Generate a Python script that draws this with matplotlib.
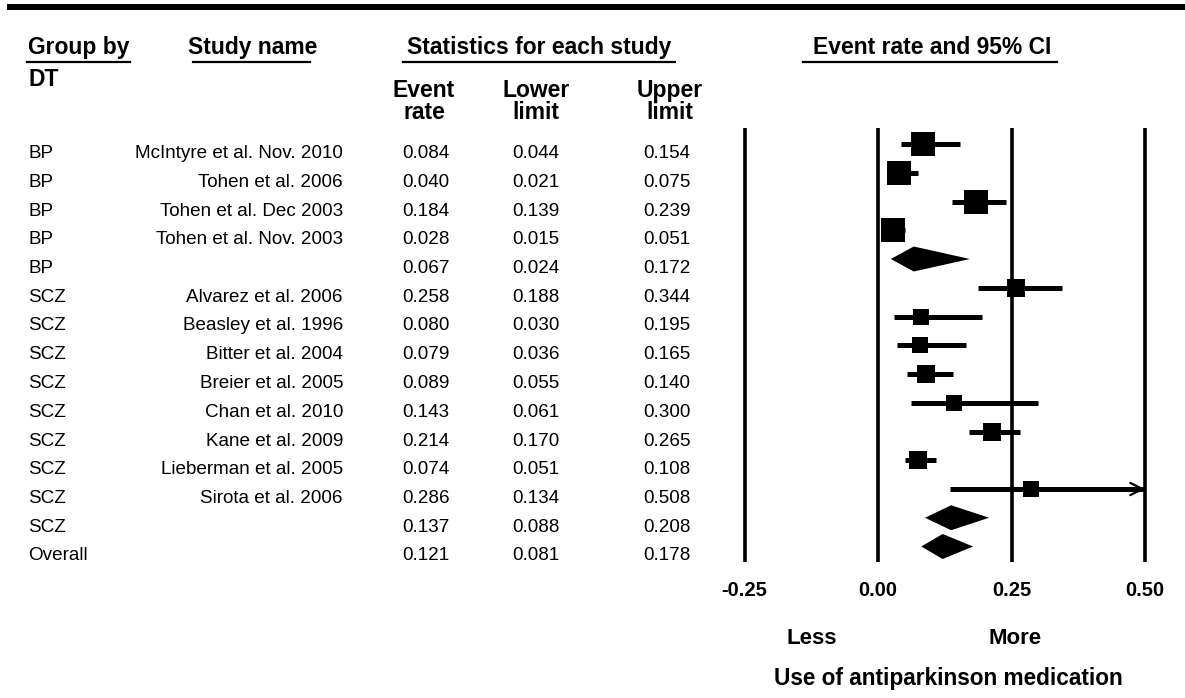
import matplotlib
matplotlib.use("Agg")
import matplotlib.pyplot as plt
from matplotlib.lines import Line2D
from matplotlib.patches import Rectangle, Polygon
from matplotlib.transforms import blended_transform_factory

# data
groups = ['BP', 'BP', 'BP', 'BP', 'BP',
          'SCZ', 'SCZ', 'SCZ', 'SCZ', 'SCZ', 'SCZ', 'SCZ', 'SCZ', 'SCZ',
          'Overall']
studies = ['McIntyre et al. Nov. 2010', 'Tohen et al. 2006', 'Tohen et al. Dec 2003',
           'Tohen et al. Nov. 2003', '',
           'Alvarez et al. 2006', 'Beasley et al. 1996', 'Bitter et al. 2004',
           'Breier et al. 2005', 'Chan et al. 2010', 'Kane et al. 2009',
           'Lieberman et al. 2005', 'Sirota et al. 2006', '', '']
rate = [0.084, 0.040, 0.184, 0.028, 0.067, 0.258, 0.080, 0.079, 0.089,
        0.143, 0.214, 0.074, 0.286, 0.137, 0.121]
lower = [0.044, 0.021, 0.139, 0.015, 0.024, 0.188, 0.030, 0.036, 0.055,
         0.061, 0.170, 0.051, 0.134, 0.088, 0.081]
upper = [0.154, 0.075, 0.239, 0.051, 0.172, 0.344, 0.195, 0.165, 0.140,
         0.300, 0.265, 0.108, 0.508, 0.208, 0.178]
summary = [False, False, False, False, True,
           False, False, False, False, False, False, False, False, True, True]
# relative study weight (box size)
weight = [0.94, 0.94, 0.98, 1.0, 0, 0.74, 0.65, 0.68, 0.76, 0.65, 0.76, 0.73, 0.65, 0, 0]
ticks = [-0.25, 0.0, 0.25, 0.50]

W, H = 1185, 698
fig = plt.figure(figsize=(W / 100, H / 100), dpi=100)
ax = fig.add_axes([0, 0, 1, 1])
ax.axis('off')
x0, sc = 878.0, 534.0        # pixel of x=0, pixels per unit
y0, rs = 144.0, 28.75        # pixel of first row, pixels per row
ax.set_xlim(-x0 / sc, (W - x0) / sc)
ax.set_ylim((H - y0) / rs, -y0 / rs)

body = dict(family=['Liberation Sans', 'DejaVu Sans'], fontsize=13.6)
bold = dict(family=['Liberation Sans', 'DejaVu Sans'], fontweight='bold')


def fx(px):
    return px / W


def fy(py):
    return 1 - py / H


# top rule
fig.add_artist(Rectangle((fx(7), fy(10)), fx(W) - fx(7), 6 / H, color='black', lw=0))

# column headers
hdr = [('Group by', 28, 130, 27), ('Study name', 188, 310, 193),
       ('Statistics for each study', 407, 675, 403), ('Event rate and 95% CI', 813, 1057, 803)]
for txt, xl, ul1, ul0 in hdr:
    fig.text(fx(xl), fy(54), txt, ha='left', va='baseline', fontsize=16.5, **bold)
    fig.add_artist(Line2D([fx(ul0), fx(ul1)], [fy(62), fy(62)], color='black', lw=1.6))
fig.text(fx(28), fy(86), 'DT', ha='left', va='baseline', fontsize=16.5, **bold)
cols = [('Event', 'rate', 424), ('Lower', 'limit', 536), ('Upper', 'limit', 670)]
for t1, t2, xc in cols:
    fig.text(fx(xc), fy(97), t1, ha='center', va='baseline', fontsize=16.5, **bold)
    fig.text(fx(xc), fy(119), t2, ha='center', va='baseline', fontsize=16.5, **bold)

# table rows
tr = blended_transform_factory(ax.transAxes, ax.transData)
off = 14 / rs
for i in range(len(rate)):
    yb = i + off
    ax.text(fx(28), yb, groups[i], transform=tr, ha='left', va='baseline', **body)
    ax.text(fx(343), yb, studies[i], transform=tr, ha='right', va='baseline', **body)
    ax.text(fx(426), yb, f'{rate[i]:.3f}', transform=tr, ha='center', va='baseline', **body)
    ax.text(fx(536), yb, f'{lower[i]:.3f}', transform=tr, ha='center', va='baseline', **body)
    ax.text(fx(667), yb, f'{upper[i]:.3f}', transform=tr, ha='center', va='baseline', **body)

# reference lines
top, bot = (128 - y0) / rs, (562 - y0) / rs
ax.vlines(ticks, top, bot, color='black', lw=2.6)
for t in ticks:
    ax.text(t, (590 - y0) / rs, f'{t:.2f}', ha='center', va='center', fontsize=14.5, **bold)

# studies and summary diamonds
xmax = ticks[-1]
for i in range(len(rate)):
    if summary[i]:
        h = 12.5 / rs
        ax.add_patch(Polygon([(lower[i], i), (rate[i], i - h), (upper[i], i), (rate[i], i + h)],
                             closed=True, color='black', lw=0))
        continue
    ax.hlines(i, lower[i], min(upper[i], xmax), color='black', lw=3.6)
    if upper[i] > xmax:
        ax.annotate('', xy=(xmax, i), xytext=(xmax - 0.04, i),
                    arrowprops=dict(arrowstyle='->', lw=1.6, color='black',
                                    mutation_scale=22, shrinkA=0, shrinkB=0))
    ax.plot(rate[i], i, marker='s', color='black', ms=17.8 * weight[i], mew=0)

fig.text(fx(812), fy(638), 'Less', ha='center', va='center', fontsize=16, **bold)
fig.text(fx(1015), fy(638), 'More', ha='center', va='center', fontsize=16, **bold)
fig.text(fx(948), fy(679), 'Use of antiparkinson medication', ha='center', va='center',
         fontsize=16.3, **bold)

fig.savefig('out.png', dpi=100)
